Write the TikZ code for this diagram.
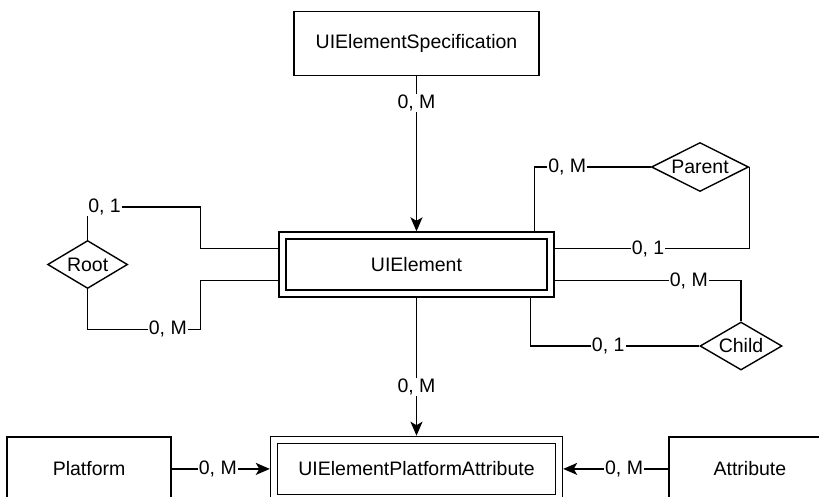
\documentclass[tikz,border=0pt]{standalone}
\usepackage{fontspec}
\setmainfont{Liberation Sans}
\usetikzlibrary{arrows.meta,calc,positioning,shapes.geometric}

\begin{document}
\begin{tikzpicture}[
  x=1pt,y=-1pt,
  >={Stealth[length=14pt,width=12pt,inset=3.5pt]},
  every node/.style={font=\fontsize{19.5}{22}\selectfont},
  entity/.style={draw,line width=1.4pt,minimum height=64pt,inner sep=0pt},
  weak/.style={draw,double,double distance=5.6pt,line width=1.4pt,outer sep=4.2pt,minimum height=58pt,inner sep=0pt},
  rel/.style={draw,diamond,aspect=2,line width=1.4pt,inner sep=0pt},
  link/.style={line width=1.4pt},
  arrow/.style={->,line width=1.4pt},
  card/.style={fill=white,inner sep=1pt}
]
  \fill[white,use as bounding box] (0,0) rectangle (819,496);
  \clip (0,0) rectangle (819,496);
  \node[weak,minimum width=268pt] (uie) at (416.5,264.5) {UIElement};
  \node[entity,minimum width=245pt,above=155pt of uie] (spec) {UIElementSpecification};
  \node[weak,minimum width=285pt,below=138pt of uie] (uiepa) {UIElementPlatformAttribute};
  \node[entity,minimum width=164pt,left=98pt of uiepa] (plat) {Platform};
  \node[entity,minimum width=162pt,right=105pt of uiepa] (attr) {Attribute};
  \node[rel,minimum width=80pt,minimum height=48pt,left=150pt of uie] (root) {Root};
  \node[rel,minimum width=97pt,minimum height=49pt] (par) at (700,167) {Parent};
  \node[rel,minimum width=82pt,minimum height=48pt] (chi) at (741,346) {Child};
  \draw[arrow] (spec) -- node[card,pos=0.17] {0, M} (uie);
  \draw[arrow] (uie) -- node[card,pos=0.65] {0, M} (uiepa);
  \draw[arrow] (plat) -- node[card,pos=0.47] {0, M} (uiepa);
  \draw[arrow] (attr) -- node[card,pos=0.42] {0, M} (uiepa);
  \draw[link] (root.north) -- ++(0,-33) -- node[card,pos=0.15] {0, 1} ++(113,0) |- ($(uie.west)+(0,-16)$);
  \draw[link] (root.south) -- ++(0,40) -- node[card,pos=0.71] {0, M} ++(113,0) |- ($(uie.west)+(0,16)$);
  \draw[link] ($(uie.north east)+(-20,0)$) |- node[card,pos=0.64] {0, M} (par.west);
  \draw[link] (par.east) |- node[card,pos=0.76] {0, 1} ($(uie.east)+(0,-16)$);
  \draw[link] (chi.north) |- node[card,pos=0.64] {0, M} ($(uie.east)+(0,16)$);
  \draw[link] ($(uie.south east)+(-24,0)$) |- node[card,pos=0.73] {0, 1} (chi.west);
\end{tikzpicture}
\end{document}
